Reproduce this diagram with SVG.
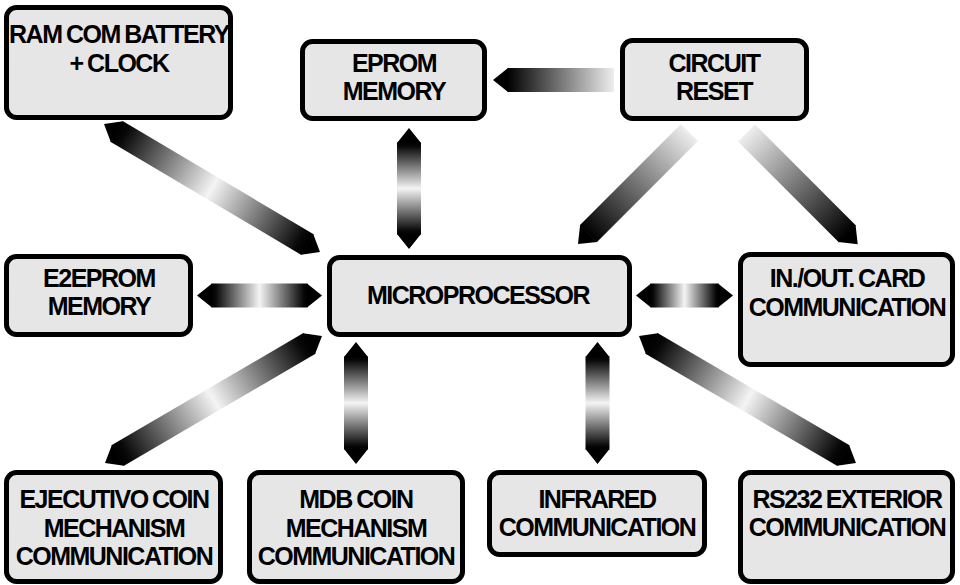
<svg xmlns="http://www.w3.org/2000/svg" width="960" height="585" viewBox="0 0 960 585">
<defs>
<linearGradient id="dbl" x1="0" y1="0" x2="1" y2="0">
<stop offset="0" stop-color="#000"/>
<stop offset="0.04" stop-color="#080808"/>
<stop offset="0.5" stop-color="#f4f4f4"/>
<stop offset="0.96" stop-color="#080808"/>
<stop offset="1" stop-color="#000"/>
</linearGradient>
<linearGradient id="sgl" x1="0" y1="0" x2="1" y2="0">
<stop offset="0" stop-color="#eeeeee"/>
<stop offset="1" stop-color="#000"/>
</linearGradient>
</defs>
<style>
.box{fill:#e6e6e6;stroke:#000;stroke-width:5}
.hd{fill:#000}
text{font-family:"Liberation Sans",Arial,Helvetica,sans-serif;font-weight:bold;font-size:25px;letter-spacing:-1.5px;word-spacing:-1px;text-anchor:middle;fill:#000}
</style>
<rect width="960" height="585" fill="#fff"/>

<g id="connectors">
<g transform="translate(104,124) rotate(30.65)"><rect x="14.5" y="-12" width="222.08" height="24" fill="url(#dbl)"/><path class="hd" d="M0 0L15 -12L15 12Z M251.08 0L236.08 -12L236.08 12Z"/></g>
<g transform="translate(409,128) rotate(90)"><rect x="14.5" y="-12" width="92" height="24" fill="url(#dbl)"/><path class="hd" d="M0 0L15 -12L15 12Z M121 0L106 -12L106 12Z"/></g>
<g transform="translate(614,80) rotate(180)"><rect x="0" y="-12" width="106.5" height="24" fill="url(#sgl)"/><path class="hd" d="M121 0L106 -12L106 12Z"/></g>
<g transform="translate(689.5,132.5) rotate(135)"><rect x="0" y="-12" width="143.2" height="24" fill="url(#sgl)"/><path class="hd" d="M157.7 0L142.7 -12L142.7 12Z"/></g>
<g transform="translate(746.5,133) rotate(45)"><rect x="0" y="-12" width="142.8" height="24" fill="url(#sgl)"/><path class="hd" d="M157.3 0L142.3 -12L142.3 12Z"/></g>
<g transform="translate(197,295.5)"><rect x="14.5" y="-12" width="96" height="24" fill="url(#dbl)"/><path class="hd" d="M0 0L15 -12L15 12Z M125 0L110 -12L110 12Z"/></g>
<g transform="translate(636,295.5)"><rect x="14.5" y="-12" width="68" height="24" fill="url(#dbl)"/><path class="hd" d="M0 0L15 -12L15 12Z M97 0L82 -12L82 12Z"/></g>
<g transform="translate(105,463) rotate(-30.34)"><rect x="14.5" y="-12" width="222.4" height="24" fill="url(#dbl)"/><path class="hd" d="M0 0L15 -12L15 12Z M251.4 0L236.4 -12L236.4 12Z"/></g>
<g transform="translate(356,342) rotate(90)"><rect x="14.5" y="-12" width="93" height="24" fill="url(#dbl)"/><path class="hd" d="M0 0L15 -12L15 12Z M122 0L107 -12L107 12Z"/></g>
<g transform="translate(597.5,342) rotate(90)"><rect x="14.5" y="-12" width="93" height="24" fill="url(#dbl)"/><path class="hd" d="M0 0L15 -12L15 12Z M122 0L107 -12L107 12Z"/></g>
<g transform="translate(639,336) rotate(30.34)"><rect x="14.5" y="-12" width="222.4" height="24" fill="url(#dbl)"/><path class="hd" d="M0 0L15 -12L15 12Z M251.4 0L236.4 -12L236.4 12Z"/></g>
</g>

<g id="ram">
<rect class="box" x="6.5" y="7.5" width="224" height="110" rx="10"/>
<text x="119" y="43">RAM COM BATTERY</text>
<text x="119" y="72">+ CLOCK</text>
</g>
<g id="eprom">
<rect class="box" x="302.5" y="41.5" width="182" height="77" rx="10"/>
<text x="394" y="72">EPROM</text>
<text x="394" y="100">MEMORY</text>
</g>
<g id="reset">
<rect class="box" x="622.5" y="40.5" width="184" height="78" rx="10"/>
<text x="714" y="72">CIRCUIT</text>
<text x="714" y="100">RESET</text>
</g>
<g id="e2eprom">
<rect class="box" x="6.5" y="256.5" width="184" height="78" rx="10"/>
<text x="99" y="287">E2EPROM</text>
<text x="99" y="315">MEMORY</text>
</g>
<g id="micro">
<rect class="box" x="329.5" y="257.5" width="300" height="77" rx="10"/>
<text x="478" y="304">MICROPROCESSOR</text>
</g>
<g id="inout">
<rect class="box" x="740.5" y="254.5" width="212" height="110" rx="10"/>
<text x="847" y="287">IN./OUT. CARD</text>
<text x="847" y="316">COMMUNICATION</text>
</g>
<g id="ejecutivo">
<rect class="box" x="6.5" y="472.5" width="214" height="109" rx="10"/>
<text x="114" y="508">EJECUTIVO COIN</text>
<text x="114" y="537">MECHANISM</text>
<text x="114" y="565">COMMUNICATION</text>
</g>
<g id="mdb">
<rect class="box" x="249.5" y="472.5" width="213" height="109" rx="10"/>
<text x="356" y="508">MDB COIN</text>
<text x="356" y="537">MECHANISM</text>
<text x="356" y="565">COMMUNICATION</text>
</g>
<g id="infrared">
<rect class="box" x="489.5" y="472.5" width="215" height="82" rx="10"/>
<text x="597" y="508">INFRARED</text>
<text x="597" y="536">COMMUNICATION</text>
</g>
<g id="rs232">
<rect class="box" x="740.5" y="472.5" width="212" height="109" rx="10"/>
<text x="847" y="508">RS232 EXTERIOR</text>
<text x="847" y="536">COMMUNICATION</text>
</g>
</svg>
